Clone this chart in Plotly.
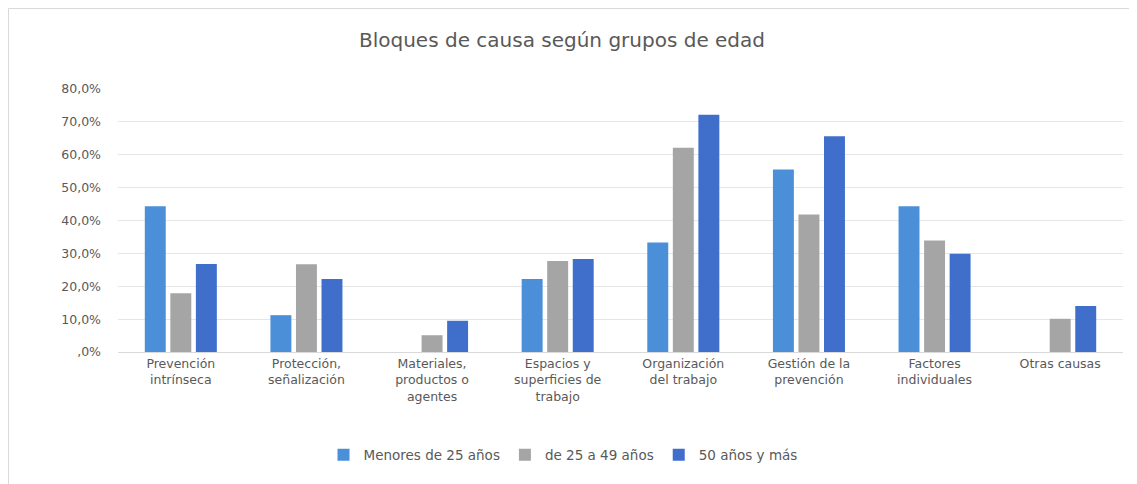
import plotly.graph_objects as go

categories = [
    "Prevención<br>intrínseca",
    "Protección,<br>señalización",
    "Materiales,<br>productos o<br>agentes",
    "Espacios y<br>superficies de<br>trabajo",
    "Organización<br>del trabajo",
    "Gestión de la<br>prevención",
    "Factores<br>individuales",
    "Otras causas",
]
menores_25 = [44.3, 11.2, 0.0, 22.2, 33.3, 55.5, 44.3, 0.0]
de_25_a_49 = [17.9, 26.7, 5.1, 27.7, 62.1, 41.8, 33.9, 10.1]
mas_50 = [26.8, 22.2, 9.5, 28.3, 72.2, 65.6, 29.9, 14.0]
series_names = ["Menores de 25 años", "de 25 a 49 años", "50 años y más"]
tick_vals = [0, 10, 20, 30, 40, 50, 60, 70, 80]
tick_text = [",0%", "10,0%", "20,0%", "30,0%", "40,0%", "50,0%", "60,0%", "70,0%", "80,0%"]
colors = ["#4A8FD8", "#A5A5A5", "#3F6FCB"]

font_family = "DejaVu Sans, sans-serif"

fig = go.Figure()
for name, vals, col in zip(series_names, [menores_25, de_25_a_49, mas_50], colors):
    fig.add_trace(go.Bar(name=name, x=categories, y=vals, marker=dict(color=col, line=dict(width=0))))

# page has an 8px body margin; figure coordinates below are page - 8
OFF = 8
W, H = 1137 - OFF, 484 - OFF
L, R, T, B = 118 - OFF, 1123 - OFF, 89 - OFF, 352 - OFF

def px_x(p):
    return (p - L) / (R - L)

def px_y(p):
    return (B - p) / (B - T)

fig.add_shape(type="rect", xref="paper", yref="paper",
              x0=px_x(0.5), x1=px_x(W + 20), y0=px_y(H + 20), y1=px_y(0.5),
              line=dict(color="#D9D9D9", width=1), fillcolor="rgba(0,0,0,0)", layer="below")

fig.update_layout(
    width=W, height=H,
    margin=dict(l=L, r=W - R, t=T, b=H - B),
    paper_bgcolor="white", plot_bgcolor="white",
    barmode="group", bargap=0.39, bargroupgap=0.18,
    title=dict(text="Bloques de causa según grupos de edad", x=px_x(562 - OFF), xref="paper",
               xanchor="center", y=1 - (40 - OFF) / H, yanchor="middle",
               font=dict(family=font_family, size=20, color="#595959")),
    font=dict(family=font_family, color="#595959"),
    xaxis=dict(showgrid=False, showline=True, linecolor="#D9D9D9", linewidth=1,
               tickfont=dict(size=12.5, color="#595959"), ticks="", tickangle=0),
    yaxis=dict(range=[0, 80], tickvals=tick_vals, ticktext=tick_text, showgrid=True,
               gridcolor="#E6E6E6", gridwidth=1, zeroline=False, showline=False,
               tickfont=dict(size=12.5, color="#595959"), ticks="", ticklabelstandoff=16),
    legend=dict(orientation="h", x=px_x(563 - OFF), xanchor="center",
                y=px_y(455 - OFF), yanchor="middle",
                font=dict(size=13.5, color="#595959"), traceorder="normal",
                itemwidth=30),
    showlegend=True,
)

fig.write_html("out.html")
